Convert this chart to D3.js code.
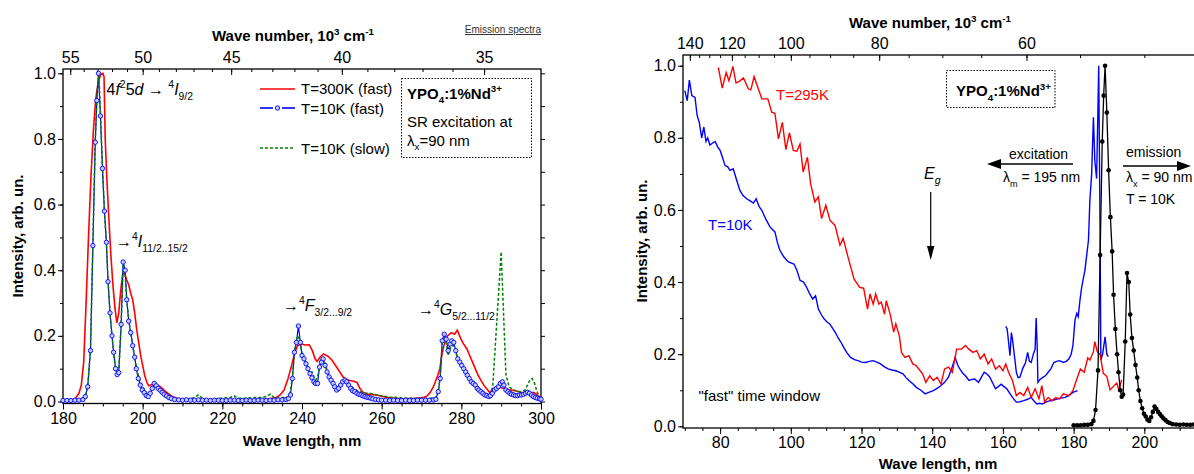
<!DOCTYPE html>
<html>
<head>
<meta charset="utf-8">
<script src="https://cdn.jsdelivr.net/npm/d3@7"></script>
<style>
  body { margin: 0; background: #fff; }
  svg { display: block; }
</style>
</head>
<body>
<div id="chart"></div>
<script>
// ---------- data: [wavelength nm, intensity] ----------

// left panel, emission T=300K (fast)
const em300Fast = [
  [180, .002], [182, .003], [183, .008], [184, .025], [184.6, .05], [185.2, .12], [185.8, .3], [186.4, .5],
  [187, .68], [187.6, .82], [188.2, .92], [188.8, .97], [189.4, .995], [190, 1.0], [190.3, .99], [190.6, .8],
  [191, .68], [191.5, .56], [192, .45], [192.5, .36], [193, .29], [193.5, .24], [194, .27], [194.5, .34],
  [195, .39], [195.5, .39], [196, .37], [196.5, .355], [197, .33], [197.5, .31], [198, .27], [198.5, .22],
  [199, .18], [199.5, .14], [200, .11], [200.5, .08], [201, .06], [201.5, .048], [202, .05], [202.5, .052],
  [203.2, .054], [204, .048], [204.6, .044], [205.5, .033], [206.5, .023], [207.5, .015], [209, .008], [211, .005],
  [215, .005], [220, .004], [225, .005], [230, .006], [232, .008], [233.5, .012], [234.5, .02], [235.5, .035],
  [236.5, .07], [237.4, .11], [238.2, .15], [238.9, .17], [239.8, .175], [240.8, .172], [241.8, .173], [242.6, .155],
  [243.3, .13], [243.8, .122], [244.5, .135], [245.4, .145], [246.5, .138], [247.6, .125], [248.5, .108], [249.5, .09],
  [250.3, .075], [251, .068], [252, .064], [253, .062], [253.8, .058], [254.5, .04], [255.3, .028], [256.3, .023],
  [257.5, .021], [258.7, .02], [260, .016], [261.1, .013], [263, .01], [265, .008], [267, .009], [268.8, .01],
  [270.7, .013], [271.5, .018], [272.2, .028], [273, .045], [273.6, .064], [274.1, .08], [274.6, .1], [275.1, .14],
  [275.6, .17], [276.5, .2], [277.5, .21], [278.3, .205], [279, .217], [279.9, .19], [280.6, .175], [281.4, .16],
  [282.1, .14], [282.8, .12], [283.5, .1], [284.2, .08], [285, .063], [285.7, .049], [286.4, .038], [287.1, .028],
  [287.6, .033], [288.1, .039], [289.1, .044], [290, .042], [291, .039], [292, .036], [292.9, .034], [294, .031],
  [294.9, .028], [296, .025], [296.8, .023], [297.5, .026], [298.2, .028], [299, .02], [299.7, .013], [300, .012]
];

// left panel, emission T=10K (fast); also the black emission curve of the right panel
const em10Fast = [
  [180, .003], [181, .003], [182, .003], [183, .004], [184, .004], [185, .006], [185.6, .015], [186.2, .045],
  [186.9, .155], [187.5, .475], [188.1, .79], [188.5, .917], [188.9, 1.0], [189.4, .87], [189.9, .71], [190.4, .58],
  [190.9, .485], [191.3, .365], [191.8, .27], [192.3, .2], [192.7, .15], [193.2, .1], [193.6, .082], [194.0, .088],
  [194.6, .235], [195.1, .425], [195.6, .40], [196.0, .31], [196.5, .245], [197.0, .21], [197.5, .17], [198.0, .135],
  [198.4, .10], [198.9, .07], [199.4, .05], [199.9, .035], [200.4, .027], [200.9, .018], [201.4, .015], [201.9, .025],
  [202.4, .04], [202.9, .055], [203.4, .048], [203.9, .04], [204.4, .034], [204.9, .028], [205.4, .022], [206.0, .017],
  [206.6, .012], [207.2, .009], [208, .006], [209, .005], [210, .004], [211, .005], [212, .004], [213, .004],
  [214, .005], [215, .004], [216, .004], [217, .003], [218, .004], [219, .004], [220, .003], [221, .003],
  [222, .004], [223, .004], [224, .003], [225, .003], [226, .004], [227, .003], [228, .003], [229, .004],
  [230, .004], [231, .003], [232, .004], [233, .004], [234, .005], [235, .005], [236, .006], [236.6, .009],
  [237.1, .02], [237.6, .07], [238.1, .15], [238.6, .18], [239.1, .23], [239.6, .18], [240.0, .14], [240.5, .13],
  [241.0, .115], [241.5, .10], [242.0, .085], [242.5, .072], [243.0, .06], [243.4, .055], [243.9, .055], [244.4, .105],
  [244.9, .12], [245.3, .13], [245.8, .11], [246.3, .09], [246.8, .075], [247.3, .065], [247.8, .055], [248.2, .045],
  [248.7, .035], [249.2, .04], [249.7, .05], [250.2, .06], [250.8, .065], [251.2, .06], [251.7, .05], [252.2, .04],
  [252.7, .033], [253.2, .03], [253.8, .025], [254.3, .022], [254.8, .02], [255.3, .017], [255.8, .015], [256.3, .013],
  [256.8, .012], [257.3, .01], [257.8, .008], [258.5, .006], [259.2, .005], [260, .004], [261, .004], [262, .003],
  [263, .004], [264, .003], [265, .003], [266, .004], [267, .003], [268, .003], [269, .004], [270, .004],
  [271, .004], [272, .004], [273, .005], [273.6, .007], [274.2, .03], [274.7, .07], [275.2, .185], [275.7, .205],
  [276.2, .19], [276.7, .155], [277.2, .175], [277.6, .185], [278.1, .18], [278.6, .155], [279.1, .13], [279.6, .12],
  [280.1, .11], [280.6, .1], [281.1, .09], [281.5, .08], [282.0, .07], [282.5, .06], [283.0, .055], [283.5, .05],
  [284.0, .04], [284.4, .035], [284.9, .03], [285.4, .025], [285.9, .02], [286.4, .018], [286.9, .015], [287.3, .018],
  [287.8, .025], [288.3, .035], [288.8, .04], [289.3, .045], [289.8, .055], [290.3, .06], [290.7, .05], [291.2, .035],
  [291.7, .03], [292.2, .025], [292.6, .022], [293.1, .02], [293.6, .018], [294.1, .018], [294.6, .02], [295.1, .02],
  [295.6, .022], [296.1, .025], [296.6, .028], [297.1, .025], [297.6, .02], [298.1, .015], [298.6, .012], [299.1, .01],
  [299.6, .008], [300, .007]
];

// left panel, emission T=10K (slow)
const em10Slow = [
  [180, .003], [183, .004], [185, .006], [185.6, .015], [186.2, .045], [186.9, .16], [187.5, .48], [188.1, .8],
  [188.6, .95], [189.0, 1.0], [189.4, .88], [189.9, .72], [190.4, .58], [190.9, .48], [191.3, .37], [191.8, .27],
  [192.3, .2], [192.7, .15], [193.2, .1], [193.6, .085], [194.0, .09], [194.6, .24], [195.1, .42], [195.6, .39],
  [196, .31], [196.5, .25], [197, .21], [197.5, .17], [198, .135], [198.5, .1], [199, .075], [199.5, .06],
  [200, .045], [200.5, .035], [201, .025], [201.5, .022], [202, .03], [202.5, .04], [203, .045], [203.5, .045],
  [204, .04], [205, .03], [206, .02], [207, .012], [208, .01], [209, .008], [210, .007], [211, .006],
  [212, .008], [213, .012], [214, .02], [215, .01], [216, .007], [218, .008], [220, .01], [222, .012],
  [223, .017], [224, .01], [226, .01], [228, .012], [230, .012], [231, .015], [232, .022], [233, .012],
  [234, .01], [235, .012], [236, .012], [236.6, .015], [237.1, .03], [237.6, .08], [238.1, .15], [238.6, .19],
  [239.1, .2], [239.6, .17], [240, .15], [240.5, .13], [241, .115], [241.5, .1], [242, .085], [242.5, .09],
  [243, .075], [243.5, .065], [244, .08], [244.5, .115], [245, .135], [245.5, .125], [246, .105], [246.5, .09],
  [247, .075], [247.5, .065], [248, .055], [248.5, .045], [249, .045], [249.5, .05], [250, .06], [250.5, .065],
  [251, .068], [251.5, .06], [252, .05], [252.5, .045], [253, .04], [254, .032], [255, .028], [256, .025],
  [257, .025], [258, .022], [259, .02], [260, .017], [262, .014], [264, .012], [266, .01], [268, .01],
  [270, .01], [272, .01], [273.6, .012], [274.2, .03], [274.7, .08], [275.2, .18], [275.7, .2], [276.2, .18],
  [276.7, .14], [277.2, .16], [277.6, .17], [278.1, .17], [278.6, .15], [279.1, .13], [279.6, .12], [280.1, .11],
  [280.6, .1], [281.5, .085], [282.5, .065], [283.5, .05], [284.5, .04], [285.5, .03], [286.5, .022], [287.3, .02],
  [287.9, .049], [290, .456], [291.2, .08], [292, .045], [293, .035], [294, .032], [295, .03], [296, .035],
  [296.6, .05], [297.2, .065], [297.8, .07], [298.4, .055], [299, .03], [299.6, .012], [300, .01]
];

// right panel, excitation T=10K (two scans)
const ex10K_a = [
  [70, .931], [70.7, .903], [71.3, .96], [72, .917], [72.9, .912], [73.5, .862], [74.1, .843], [74.8, .80],
  [75.4, .83], [76, .79], [76.5, .80], [77.1, .78], [77.8, .785], [78.6, .79], [79.3, .775], [80, .765],
  [80.7, .745], [81.4, .723], [82.1, .72], [82.8, .71], [83.7, .714], [84.6, .685], [85.6, .654], [86.5, .64],
  [87.5, .631], [88.5, .625], [89.4, .619], [90.2, .631], [91, .61], [91.8, .599], [92.9, .575], [94.1, .553],
  [95.5, .539], [96.2, .51], [96.9, .488], [98, .47], [99.3, .456], [100.9, .45], [101.7, .433], [102.6, .405],
  [103.6, .40], [104.5, .385], [105.2, .37], [106.2, .353], [107, .362], [107.8, .325], [108.6, .31], [109.4, .298],
  [110.2, .29], [111, .284], [111.8, .272], [112.6, .26], [113.4, .245], [114.2, .233], [115, .218], [115.8, .205],
  [116.9, .191], [118, .185], [119, .182], [120, .178], [121.1, .177], [122.2, .18], [123.3, .182], [124.3, .178],
  [125.4, .173], [126.5, .165], [127.5, .159], [128.6, .156], [129.7, .154], [130.7, .15], [131.8, .145], [132.6, .135],
  [133.4, .127], [134.5, .118], [135.5, .108], [136.8, .1], [138, .09], [139.2, .095], [140.3, .099], [141.4, .105],
  [142.5, .113], [143.5, .122], [144.6, .136], [145.5, .16], [146.5, .191], [147.2, .17], [147.8, .159], [148.6, .148],
  [149.4, .14], [150.4, .127], [151.2, .13], [152, .131], [153.1, .122], [154, .138], [154.7, .15], [155.5, .145],
  [156.3, .136], [157.1, .12], [157.9, .104], [158.7, .11], [159.5, .117], [160.3, .11], [161.1, .104], [161.9, .092],
  [162.7, .08], [163.8, .067], [164.8, .068], [165.9, .071], [167, .075], [168, .08], [168.8, .07], [169.6, .062],
  [170.4, .064], [171.2, .062], [172.3, .068], [173.4, .071], [174.4, .073], [175.5, .076], [176.5, .078], [177.6, .08],
  [178.7, .086], [179.8, .094], [180.5, .097], [181.1, .099]
];
const ex10K_b = [
  [160.8, .277], [161.2, .27], [162, .196], [162.4, .26], [162.7, .242], [163.2, .2], [163.8, .15], [164.3, .135],
  [164.8, .136], [165.6, .16], [166.4, .177], [167, .205], [167.5, .18], [168, .177], [168.6, .2], [169.1, .214],
  [169.4, .30], [169.7, .22], [169.9, .122], [170.5, .13], [171.2, .135], [172, .14], [172.8, .15], [173.6, .16],
  [174.4, .177], [175.2, .18], [176, .182], [177.1, .177], [177.9, .18], [178.7, .187], [179.3, .2], [179.8, .224],
  [180.4, .295], [180.9, .313], [181.3, .304], [181.8, .35], [182.3, .387], [183.2, .433], [184.2, .516], [184.6, .627],
  [185.1, .70], [185.6, .857], [186, .737], [186.5, .687], [186.8, .839], [187.1, 1.0], [187.5, .516], [187.7, .184],
  [188.2, .2], [188.9, .248], [189.4, .2], [189.8, .193]
];

// right panel, excitation T=295K
const ex295K = [
  [79.5, .995], [80.6, .938], [81.7, .981], [82.5, .958], [83.6, .998], [84.5, .952], [85.6, .958], [86.6, .966],
  [88, .936], [88.7, .933], [89.6, .97], [90.8, .936], [91.8, .908], [93.5, .908], [94.6, .871], [95.5, .868],
  [96.5, .797], [97.6, .843], [98.6, .767], [99.6, .814], [100.7, .765], [101.7, .763], [102.6, .783], [103.5, .705],
  [104.7, .746], [105.6, .673], [106.8, .622], [107.8, .636], [108.7, .576], [109.9, .613], [111.1, .571], [112.5, .557],
  [113.9, .502], [114.8, .521], [116.3, .465], [117.9, .408], [119.5, .385], [120.6, .383], [121.7, .325], [122.4, .367],
  [123.3, .339], [124, .367], [124.9, .339], [125.6, .344], [126.5, .311], [127, .348], [128.1, .311], [129.1, .261],
  [129.7, .284], [130.7, .251], [131.3, .205], [132.3, .191], [133.4, .196], [134.5, .173], [135.5, .168], [136.6, .154],
  [137.3, .145], [138.2, .122], [139.3, .14], [140.3, .127], [141.4, .136], [142.5, .117], [143.5, .159], [144.6, .164],
  [145.7, .15], [146.9, .214], [148.3, .214], [149.4, .224], [150.4, .214], [151.5, .205], [152.6, .21], [153.6, .187],
  [154.7, .2], [155.8, .173], [156.8, .187], [157.9, .159], [159, .168], [160, .154], [160.8, .173], [161.6, .15],
  [162.7, .127], [163.8, .085], [164.8, .094], [165.9, .085], [167, .108], [168, .08], [169.1, .104], [170.2, .076],
  [171, .113], [171.8, .067], [172.8, .08], [173.9, .071], [174.9, .08], [176, .076], [177.1, .09], [178.7, .085],
  [179.8, .099], [180.6, .122], [181.9, .159], [183, .15], [184, .19], [184.6, .184], [185.6, .207], [186, .235],
  [186.7, .207], [187.5, .198], [188.4, .147], [189.4, .138], [190.3, .101], [191.2, .11], [192.2, .12], [192.8, .101],
  [193.6, .129]
];

// tick values
const leftBottomTicks = [180, 200, 220, 240, 260, 280, 300];
const leftTopTicks = [55, 50, 45, 40, 35];            // 10^3 cm^-1
const rightBottomTicks = [80, 100, 120, 140, 160, 180, 200];
const rightTopTicks = [140, 120, 100, 80, 60];        // 10^3 cm^-1
const yTicks = [0, 0.2, 0.4, 0.6, 0.8, 1.0];

// ---------- drawing ----------
const font = '"Liberation Sans", Arial, Helvetica, sans-serif';

const svg = d3.select("#chart").append("svg")
  .attr("width", 1194).attr("height", 474)
  .style("font-family", font);

function rich(parent, x, y, parts, o) {
  o = o || {};
  const fs = o.fs || 15;
  const t = parent.append("text")
    .attr("x", x).attr("y", y)
    .attr("font-size", fs)
    .attr("text-anchor", o.anchor || "start")
    .attr("font-weight", o.bold ? "bold" : null)
    .attr("fill", o.fill || "#000");
  let cur = 0;
  parts.forEach(function (p) {
    const off = p[1] === "sup" ? -0.42 * fs : p[1] === "sub" ? 0.33 * fs : 0;
    t.append("tspan")
      .attr("dy", off - cur)
      .attr("font-size", p[1] ? fs * 0.65 : fs)
      .attr("font-style", p[2] ? "italic" : null)
      .text(p[0]);
    cur = off;
  });
  return t;
}

function cleanAxis(g, fs) {
  g.attr("font-size", fs).attr("font-family", font);
  g.select(".domain").remove();
  g.selectAll("line").attr("stroke", "#000").attr("stroke-width", 1);
  g.selectAll("text").attr("fill", "#000");
}

function range(a, b, s) {
  const out = [];
  for (let v = a; v <= b + 1e-9; v += s) out.push(+v.toFixed(3));
  return out;
}

// ================= LEFT PANEL =================
const L = { left: 63, right: 541, top: 69, bottom: 403.5 };
const xL = d3.scaleLinear().domain([180, 300]).range([L.left, L.right]);
const yL = d3.scaleLinear().domain([0, 1]).range([401.5, 73.3]);
const gL = svg.append("g");

// axes
cleanAxis(gL.append("g").attr("transform", `translate(0,${L.bottom})`)
  .call(d3.axisBottom(xL).tickValues(range(180, 300, 5)).tickSize(3).tickFormat("")), 16);
cleanAxis(gL.append("g").attr("transform", `translate(0,${L.bottom})`)
  .call(d3.axisBottom(xL).tickValues(leftBottomTicks).tickSize(6).tickPadding(3)), 16);
cleanAxis(gL.append("g").attr("transform", `translate(0,${L.top})`)
  .call(d3.axisTop(xL).tickValues(range(35, 55, 1).map(k => 1e4 / k)).tickSize(-3).tickFormat("")), 16);
cleanAxis(gL.append("g").attr("transform", `translate(0,${L.top})`)
  .call(d3.axisTop(xL).tickValues(leftTopTicks.map(k => 1e4 / k)).tickSize(-6).tickPadding(6)
    .tickFormat(d => Math.round(1e4 / d))), 16);
cleanAxis(gL.append("g").attr("transform", `translate(${L.left},0)`)
  .call(d3.axisLeft(yL).tickValues(range(0, 1, 0.1)).tickSize(3).tickFormat("")), 16);
cleanAxis(gL.append("g").attr("transform", `translate(${L.left},0)`)
  .call(d3.axisLeft(yL).tickValues(yTicks).tickSize(5).tickPadding(2).tickFormat(d3.format(".1f"))), 16);
cleanAxis(gL.append("g").attr("transform", `translate(${L.right},0)`)
  .call(d3.axisRight(yL).tickValues(range(0, 1, 0.1)).tickSize(4).tickFormat("")), 16);

gL.append("rect")
  .attr("x", L.left).attr("y", L.top)
  .attr("width", L.right - L.left).attr("height", L.bottom - L.top)
  .attr("fill", "none").attr("stroke", "#000").attr("stroke-width", 1.3);

// titles
rich(gL, 293, 41, [["Wave number, 10"], ["3", "sup"], [" cm"], ["-1", "sup"]], { fs: 15, bold: true, anchor: "middle" });
gL.append("text").attr("x", 541).attr("y", 33).attr("text-anchor", "end")
  .attr("font-size", 10).attr("fill", "#333").attr("text-decoration", "underline")
  .text("Emission spectra");
gL.append("text").attr("x", 302).attr("y", 446).attr("text-anchor", "middle")
  .attr("font-size", 15).attr("font-weight", "bold").text("Wave length, nm");
gL.append("text").attr("transform", "translate(23,236) rotate(-90)").attr("text-anchor", "middle")
  .attr("font-size", 15).attr("font-weight", "bold").text("Intensity, arb. un.");

// curves
const lineL = d3.line().x(d => xL(d[0])).y(d => yL(d[1]));
gL.append("path").datum(em300Fast).attr("d", lineL)
  .attr("fill", "none").attr("stroke", "#ff0000").attr("stroke-width", 1.6);
gL.append("path").datum(em10Fast).attr("d", lineL)
  .attr("fill", "none").attr("stroke", "#0000ff").attr("stroke-width", 1.2);
gL.append("path").datum(em10Slow).attr("d", lineL)
  .attr("fill", "none").attr("stroke", "#008000").attr("stroke-width", 1.5)
  .attr("stroke-dasharray", "3,2");
gL.append("g").selectAll("circle").data(em10Fast).enter().append("circle")
  .attr("cx", d => xL(d[0])).attr("cy", d => yL(d[1])).attr("r", 2.2)
  .attr("fill", "#c4ccff").attr("stroke", "#0000ff").attr("stroke-width", 0.9);

// legend
const leg = gL.append("g");
leg.append("line").attr("x1", 260).attr("x2", 295).attr("y1", 89).attr("y2", 89)
  .attr("stroke", "#ff0000").attr("stroke-width", 1.6);
leg.append("line").attr("x1", 260).attr("x2", 273).attr("y1", 108).attr("y2", 108)
  .attr("stroke", "#0000ff").attr("stroke-width", 1.6);
leg.append("line").attr("x1", 282).attr("x2", 295).attr("y1", 108).attr("y2", 108)
  .attr("stroke", "#0000ff").attr("stroke-width", 1.6);
leg.append("circle").attr("cx", 277.5).attr("cy", 108).attr("r", 2.2)
  .attr("fill", "#c4ccff").attr("stroke", "#0000ff").attr("stroke-width", 0.9);
leg.append("line").attr("x1", 260).attr("x2", 295).attr("y1", 148).attr("y2", 148)
  .attr("stroke", "#008000").attr("stroke-width", 1.5).attr("stroke-dasharray", "3,2");
leg.append("text").attr("x", 301).attr("y", 93.5).attr("font-size", 15).text("T=300K (fast)");
leg.append("text").attr("x", 301).attr("y", 113.5).attr("font-size", 15).text("T=10K (fast)");
leg.append("text").attr("x", 301).attr("y", 153.5).attr("font-size", 15).text("T=10K (slow)");

gL.append("rect").attr("x", 401.5).attr("y", 78.5).attr("width", 130).attr("height", 79)
  .attr("fill", "none").attr("stroke", "#000").attr("stroke-width", 1).attr("stroke-dasharray", "1.5,1.5");
rich(gL, 407, 98.5, [["YPO"], ["4", "sub"], [":1%Nd"], ["3+", "sup"]], { fs: 15, bold: true });
gL.append("text").attr("x", 407).attr("y", 127).attr("font-size", 15).text("SR excitation at");
rich(gL, 407, 145.5, [["λ"], ["x", "sub"], ["=90 nm"]], { fs: 15 });

// transition labels
rich(gL, 106.5, 95, [["4"], ["f", "", 1], ["2", "sup"], ["5"], ["d", "", 1], [" → "], ["4", "sup"], ["I", "", 1], ["9/2", "sub"]], { fs: 16 });
rich(gL, 116, 247, [["→"], ["4", "sup"], ["I", "", 1], ["11/2..15/2", "sub"]], { fs: 16 });
rich(gL, 283, 311, [["→"], ["4", "sup"], ["F", "", 1], ["3/2...9/2", "sub"]], { fs: 16 });
rich(gL, 418, 315, [["→"], ["4", "sup"], ["G", "", 1], ["5/2...11/2", "sub"]], { fs: 16 });

// ================= RIGHT PANEL =================
const R = { left: 683, right: 1200, top: 55, bottom: 428 };
const xR = d3.scaleLinear().domain([69.5, 69.5 + (R.right - R.left) / 3.535]).range([R.left, R.right]);
const yR = d3.scaleLinear().domain([0, 1]).range([426.3, 65.7]);
const gR = svg.append("g");

cleanAxis(gR.append("g").attr("transform", `translate(0,${R.bottom})`)
  .call(d3.axisBottom(xR).tickValues(range(70, 215, 5)).tickSize(3).tickFormat("")), 16);
cleanAxis(gR.append("g").attr("transform", `translate(0,${R.bottom})`)
  .call(d3.axisBottom(xR).tickValues(rightBottomTicks).tickSize(6).tickPadding(3)), 16);
cleanAxis(gR.append("g").attr("transform", `translate(0,${R.top})`)
  .call(d3.axisTop(xR).tickValues(range(50, 140, 5).map(k => 1e4 / k)).tickSize(-3).tickFormat("")), 16);
cleanAxis(gR.append("g").attr("transform", `translate(0,${R.top})`)
  .call(d3.axisTop(xR).tickValues(rightTopTicks.map(k => 1e4 / k)).tickSize(-6).tickPadding(6)
    .tickFormat(d => Math.round(1e4 / d))), 16);
cleanAxis(gR.append("g").attr("transform", `translate(${R.left},0)`)
  .call(d3.axisLeft(yR).tickValues(range(0, 1, 0.1)).tickSize(3).tickFormat("")), 16);
cleanAxis(gR.append("g").attr("transform", `translate(${R.left},0)`)
  .call(d3.axisLeft(yR).tickValues(yTicks).tickSize(5).tickPadding(2).tickFormat(d3.format(".1f"))), 16);

gR.append("rect")
  .attr("x", R.left).attr("y", R.top)
  .attr("width", R.right - R.left).attr("height", R.bottom - R.top)
  .attr("fill", "none").attr("stroke", "#000").attr("stroke-width", 1.3);

rich(gR, 930, 28, [["Wave number, 10"], ["3", "sup"], [" cm"], ["-1", "sup"]], { fs: 15, bold: true, anchor: "middle" });
gR.append("text").attr("x", 938).attr("y", 469).attr("text-anchor", "middle")
  .attr("font-size", 15).attr("font-weight", "bold").text("Wave length, nm");
gR.append("text").attr("transform", "translate(647,241) rotate(-90)").attr("text-anchor", "middle")
  .attr("font-size", 15).attr("font-weight", "bold").text("Intensity, arb. un.");

const lineR = d3.line().x(d => xR(d[0])).y(d => yR(d[1]));
[ex10K_a, ex10K_b].forEach(function (s) {
  gR.append("path").datum(s).attr("d", lineR)
    .attr("fill", "none").attr("stroke", "#0000ff").attr("stroke-width", 1.4);
});
gR.append("path").datum(ex295K).attr("d", lineR)
  .attr("fill", "none").attr("stroke", "#ff0000").attr("stroke-width", 1.4);
const emR = em10Fast.filter(d => d[0] <= 216);
gR.append("path").datum(emR).attr("d", lineR)
  .attr("fill", "none").attr("stroke", "#000").attr("stroke-width", 1.3);
gR.append("g").selectAll("circle").data(emR).enter().append("circle")
  .attr("cx", d => xR(d[0])).attr("cy", d => yR(d[1])).attr("r", 2.3).attr("fill", "#000");

// annotations
gR.append("text").attr("x", 776).attr("y", 99.5).attr("font-size", 15).attr("fill", "#ff0000").text("T=295K");
gR.append("text").attr("x", 708).attr("y", 229.5).attr("font-size", 15).attr("fill", "#0000ff").text("T=10K");
gR.append("text").attr("x", 698.5).attr("y", 401).attr("font-size", 15).text("\"fast\" time window");

gR.append("rect").attr("x", 946.5).attr("y", 70.5).attr("width", 108.5).attr("height", 37)
  .attr("fill", "none").attr("stroke", "#000").attr("stroke-width", 1).attr("stroke-dasharray", "1.5,1.5");
rich(gR, 956, 96, [["YPO"], ["4", "sub"], [":1%Nd"], ["3+", "sup"]], { fs: 15, bold: true });

gR.append("text").attr("x", 1009).attr("y", 159).attr("font-size", 14).text("excitation");
rich(gR, 1003, 182, [["λ"], ["m", "sub"], [" = 195 nm"]], { fs: 14 });
gR.append("line").attr("x1", 998).attr("x2", 1073).attr("y1", 164).attr("y2", 164)
  .attr("stroke", "#000").attr("stroke-width", 1.5);
gR.append("path").attr("d", "M987,164L1001,159L1001,169Z").attr("fill", "#000");

gR.append("text").attr("x", 1126).attr("y", 157).attr("font-size", 14).text("emission");
rich(gR, 1126, 182, [["λ"], ["x", "sub"], [" = 90 nm"]], { fs: 14 });
gR.append("text").attr("x", 1126).attr("y", 204).attr("font-size", 14).text("T = 10K");
gR.append("line").attr("x1", 1123).attr("x2", 1180).attr("y1", 166).attr("y2", 166)
  .attr("stroke", "#000").attr("stroke-width", 1.5);
gR.append("path").attr("d", "M1191,166L1177,161L1177,171Z").attr("fill", "#000");

rich(gR, 924, 179, [["E", "", 1], ["g", "sub", 1]], { fs: 16 });
gR.append("line").attr("x1", 930.7).attr("x2", 930.7).attr("y1", 192).attr("y2", 250)
  .attr("stroke", "#000").attr("stroke-width", 1.2);
gR.append("path").attr("d", "M930.7,260L927,246L934.4,246Z").attr("fill", "#000");
</script>
</body>
</html>
